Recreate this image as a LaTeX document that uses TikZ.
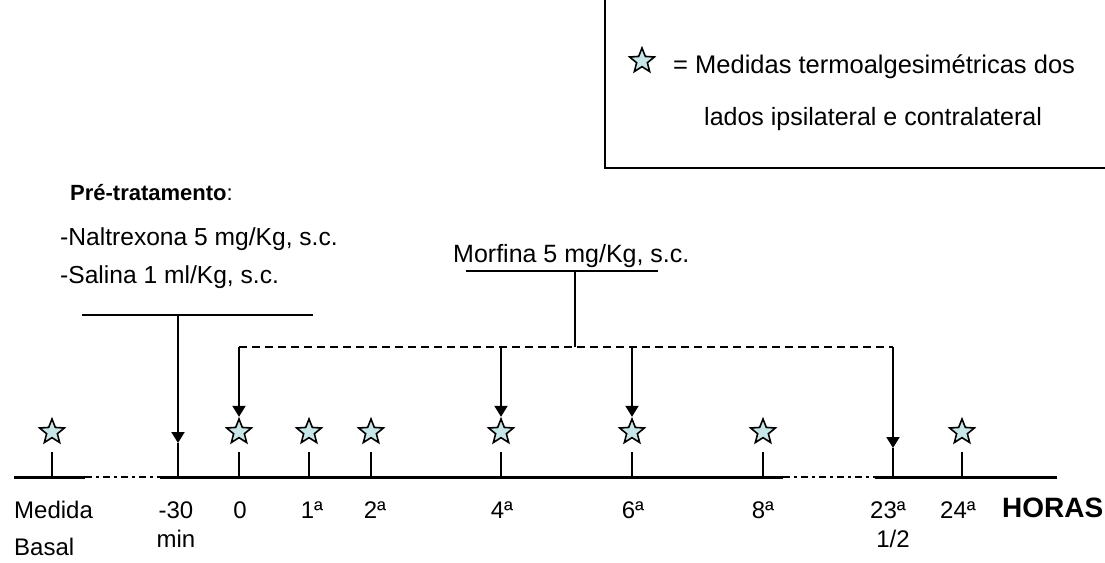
\documentclass[tikz,border=0pt]{standalone}
\usepackage{fontspec}
\setmainfont{Liberation Sans}
\usetikzlibrary{arrows.meta,shapes.geometric}
\definecolor{starfill}{RGB}{200,230,232}
\begin{document}
\begin{tikzpicture}[x=1pt,y=-1pt,
  every node/.style={inner sep=0pt, font=\fontsize{24}{28}\selectfont},
  ln/.style={line width=2pt},
  axisln/.style={line width=3pt},
  dotseg/.style={line width=2pt, dash pattern=on 7pt off 4pt on 3pt off 4pt},
  dashln/.style={line width=2pt, dash pattern=on 8pt off 5pt},
  arr/.style={line width=2pt, -{Triangle[width=13pt,length=11pt]}},
  mstar/.style={star, star points=5, star point ratio=2.3, minimum size=26pt, inner sep=0pt, draw, line width=1.6pt, fill=starfill},
  lbl/.style={anchor=base},
  lblw/.style={anchor=base west}
]
\useasboundingbox (0,0) rectangle (1105,562);

% legend
\coordinate (bx0) at (605,0);
\coordinate (bx1) at (605,168);
\coordinate (bx2) at (1105,168);
\draw[ln] (bx0) -- (bx1) -- (bx2);
\node[mstar] (lstar) at (642,61) {};
\node[lblw] (leg1) at (673,73) {\fontsize{25.5}{29}\selectfont = Medidas termoalgesimétricas dos};
\node[lblw] (leg2) at (704,125) {\fontsize{25}{29}\selectfont lados ipsilateral e contralateral};

% axis
\coordinate (a0) at (14,477);
\coordinate (a1) at (85,477);
\coordinate (a2) at (160,477);
\coordinate (a3) at (783,477);
\coordinate (a4) at (875,477);
\coordinate (a5) at (1057,477);
\draw[axisln] (a0) -- (a1);
\draw[dotseg] (a1) -- (a2);
\draw[axisln] (a2) -- (a3);
\draw[dotseg] (a3) -- (a4);
\draw[axisln] (a4) -- (a5);

% ticks and stars
\foreach \n/\x in {mb/52, t0/239, t1/309, t2/371, t4/501, t6/632, t8/763, t24/962}{
  \coordinate (\n top) at (\x,452);
  \coordinate (\n bot) at (\x,477);
  \draw[ln] (\n top) -- (\n bot);
  \node[mstar] (\n star) at (\x,432) {};
}

% pre-treatment
\node[lblw] (pre) at (70,200) {\fontsize{22}{25}\selectfont\textbf{Pré-tratamento}:};
\node[lblw] (nal) at (60,245) {\fontsize{24.6}{28}\selectfont -Naltrexona 5 mg/Kg, s.c.};
\node[lblw] (sal) at (60,283) {\fontsize{24.6}{28}\selectfont -Salina 1 ml/Kg, s.c.};
\coordinate (pl) at (82,315);
\coordinate (pr) at (313,315);
\coordinate (pm) at (178,315);
\coordinate (ptip) at (178,443);
\coordinate (pbot) at (178,477);
\draw[ln] (pl) -- (pr);
\draw[arr] (pm) -- (ptip);
\draw[ln] (ptip) -- (pbot);

% morphine
\node[lblw] (mor) at (453,262) {\fontsize{25}{29}\selectfont Morfina 5 mg/Kg, s.c.};
\coordinate (ml) at (466,271);
\coordinate (mr) at (658,271);
\coordinate (mm) at (575,271);
\coordinate (md) at (575,347);
\draw[ln] (ml) -- (mr);
\draw[ln] (mm) -- (md);
\coordinate (d0) at (239,347);
\coordinate (d4) at (501,347);
\coordinate (d6) at (632,347);
\coordinate (d23) at (893,347);
\draw[dashln] (d0) -- (d23);
\draw[arr] (d0) -- (t0star.north);
\draw[arr] (d4) -- (t4star.north);
\draw[arr] (d6) -- (t6star.north);
\coordinate (tip23) at (893,448);
\coordinate (bot23) at (893,477);
\draw[arr] (d23) -- (tip23);
\draw[ln] (tip23) -- (bot23);

% labels
\node[lblw] (lmed) at (14,518) {Medida};
\node[lblw] (lbas) at (14,555) {Basal};
\node[lbl] (lm30) at (176,518) {-30};
\node[lbl] (lmin) at (176,547) {min};
\node[lbl] (l0) at (240,518) {0};
\node[lbl] (l1) at (312,518) {1ª};
\node[lbl] (l2) at (375,518) {2ª};
\node[lbl] (l4) at (502,518) {4ª};
\node[lbl] (l6) at (633,518) {6ª};
\node[lbl] (l8) at (763,518) {8ª};
\node[lbl] (l23) at (888,518) {23ª};
\node[lbl] (lhalf) at (893,547) {1/2};
\node[lbl] (l24) at (958,518) {24ª};
\node[lblw] (hor) at (1002,517) {\fontsize{28}{31}\selectfont\textbf{HORAS}};
\end{tikzpicture}
\end{document}
